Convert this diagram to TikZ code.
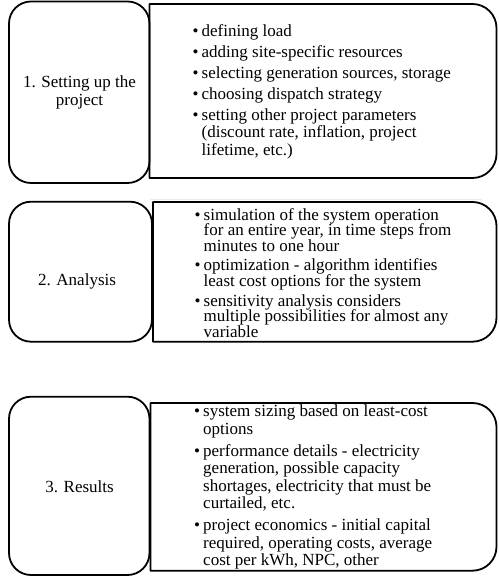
\documentclass[tikz,border=0pt]{standalone}
\usepackage{fontspec}
\setmainfont{Liberation Serif}
% bullet and hanging indent for the list entries
\newcommand\bitem{\makebox[9pt][l]{\textbullet}}
\newcommand\bind{\hspace*{9pt}}
\begin{document}
\begin{tikzpicture}[x=1pt,y=1pt,line join=round,
  frame/.style={draw=black,line width=1.8pt},
  steplabel/.style={font=\fontsize{17}{18}\selectfont,align=center,inner sep=0pt},
  steplist/.style={font=\fontsize{17}{17.5}\selectfont,align=left,anchor=west,inner sep=0pt},
  tightlist/.style={steplist,font=\fontsize{17}{15.8}\selectfont}]
\useasboundingbox (0,0) rectangle (498,578);
\fill[white] (0,0) rectangle (498,578);

% right-hand frame: square on the left, rounded on the right
\newcommand\listframe[4]{%
  \draw[frame] (#1,#2) -- (#1,#4) -- ({#3-24},#4)
    arc[start angle=90,end angle=0,radius=24] -- (#3,{#2+24})
    arc[start angle=0,end angle=-90,radius=24] -- cycle;}

% ---- step 1
\draw[frame,rounded corners=22pt] (9,395) rectangle (149.5,576.5);
\node[steplabel] (s1) at (79.5,486) {1. Setting up the\\project};
\listframe{149.5}{400}{496.5}{574}
\node[steplist] (l1) at (192.5,486.3) {%
\bitem defining load\\[3.5pt]
\bitem adding site-specific resources\\[3.5pt]
\bitem selecting generation sources, storage\\[3.5pt]
\bitem choosing dispatch strategy\\[3.5pt]
\bitem setting other project parameters\\
\bind(discount rate, inflation, project\\
\bind lifetime, etc.)};

% faint rule between the first two rows
\draw[black!8,line width=1pt] (150,378.7) -- (482,378.7);

% ---- step 2
\draw[frame,rounded corners=22pt] (9,236.3) rectangle (152,376.3);
\node[steplabel] (s2) at (77,296.5) {2. Analysis};
\listframe{153}{236.3}{496.5}{376}
\node[tightlist] (l2) at (194.5,305) {%
\bitem simulation of the system operation\\
\bind for an entire year, in time steps from\\
\bind minutes to one hour\\[3.5pt]
\bitem optimization - algorithm identifies\\
\bind least cost options for the system\\[3.5pt]
\bitem sensitivity analysis considers\\
\bind multiple possibilities for almost any\\
\bind variable};

% ---- step 3
\draw[frame,rounded corners=22pt] (9,3) rectangle (149.5,181.3);
\node[steplabel] (s3) at (79.5,91.5) {3. Results};
\listframe{150.5}{7.3}{496.5}{175}
\node[steplist] (l3) at (194,91) {%
\bitem system sizing based on least-cost\\
\bind options\\[4.5pt]
\bitem performance details - electricity\\
\bind generation, possible capacity\\
\bind shortages, electricity that must be\\
\bind curtailed, etc.\\[4.5pt]
\bitem project economics - initial capital\\
\bind required, operating costs, average\\
\bind cost per kWh, NPC, other};
\end{tikzpicture}
\end{document}
